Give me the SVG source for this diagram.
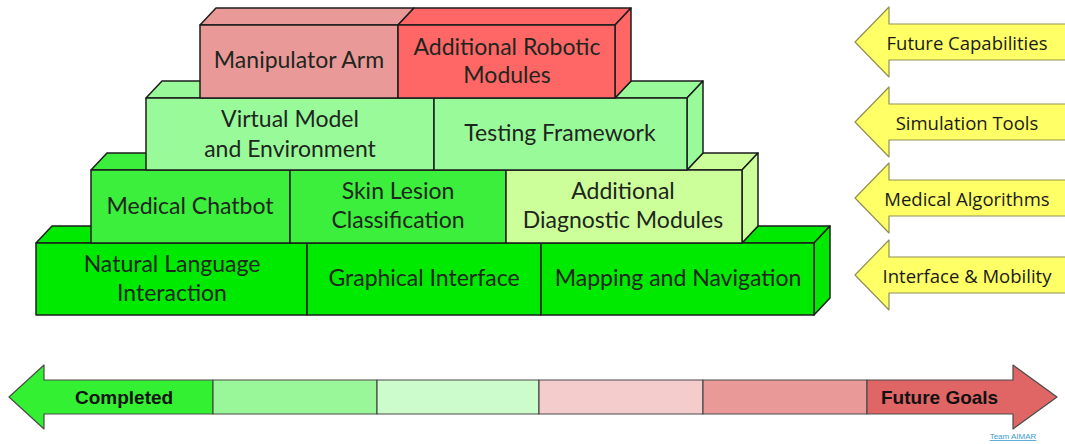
<svg xmlns="http://www.w3.org/2000/svg" width="1065" height="444" viewBox="0 0 1065 444">
  <style>
    .blk { stroke: #1c1c1c; stroke-width: 1.5; stroke-linejoin: round; }
    .lbl { font-family: Lato, "Liberation Sans", sans-serif; font-size: 23px; fill: #1e261e; text-anchor: middle; }
    .tag { fill: #ffff66; stroke: #8f8f55; stroke-width: 1.2; stroke-linejoin: round; }
    .tagtxt { font-family: "Open Sans", "Liberation Sans", sans-serif; font-size: 18.5px; fill: #1a1a1a; text-anchor: middle; }
    .bar { stroke: #4a4a4a; stroke-width: 1.2; stroke-linejoin: round; }
    .bartxt { font-family: "Liberation Sans", Arial, sans-serif; font-weight: bold; font-size: 19px; fill: #111; }
    .done { fill: #00ea00; }
    .mid { fill: #3cef3c; }
    .soft { fill: #99fa99; }
    .pale { fill: #ccff99; }
    .pink { fill: #ea9999; }
    .red { fill: #ff6666; }
  </style>

  <rect width="1065" height="444" fill="#ffffff"/>

  <!-- Level 4: interface and mobility -->
  <g id="natural-language">
    <polygon class="blk done" points="36,243 52,226 107,226 91,243"/>
    <rect class="blk done" x="36" y="243" width="271" height="72"/>
    <text class="lbl" x="172" y="272">Natural Language</text>
    <text class="lbl" x="172" y="301">Interaction</text>
  </g>
  <g id="graphical-interface">
    <rect class="blk done" x="307" y="243" width="234" height="72"/>
    <text class="lbl" x="424" y="286">Graphical Interface</text>
  </g>
  <g id="mapping-navigation">
    <polygon class="blk done" points="742,243 758,226 830,226 814,243"/>
    <polygon class="blk done" points="814,243 830,226 830,298 814,315"/>
    <rect class="blk done" x="541" y="243" width="273" height="72"/>
    <text class="lbl" x="678" y="286">Mapping and Navigation</text>
  </g>

  <!-- Level 3: medical algorithms -->
  <g id="medical-chatbot">
    <polygon class="blk mid" points="91,170 107,153 162,153 146,170"/>
    <rect class="blk mid" x="91" y="170" width="199" height="73"/>
    <text class="lbl" x="190" y="214">Medical Chatbot</text>
  </g>
  <g id="skin-lesion">
    <rect class="blk mid" x="290" y="170" width="216" height="73"/>
    <text class="lbl" x="398" y="199">Skin Lesion</text>
    <text class="lbl" x="398" y="228">Classification</text>
  </g>
  <g id="diagnostic-modules">
    <polygon class="blk pale" points="687,170 703,153 758,153 742,170"/>
    <polygon class="blk pale" points="742,170 758,153 758,226 742,243"/>
    <rect class="blk pale" x="506" y="170" width="236" height="73"/>
    <text class="lbl" x="623" y="199">Additional</text>
    <text class="lbl" x="623" y="228">Diagnostic Modules</text>
  </g>

  <!-- Level 2: simulation tools -->
  <g id="virtual-model">
    <polygon class="blk soft" points="146,98 162,81 216,81 200,98"/>
    <rect class="blk soft" x="146" y="98" width="288" height="72"/>
    <text class="lbl" x="290" y="127">Virtual Model</text>
    <text class="lbl" x="290" y="157">and Environment</text>
  </g>
  <g id="testing-framework">
    <polygon class="blk soft" points="615,98 631,81 703,81 687,98"/>
    <polygon class="blk soft" points="687,98 703,81 703,153 687,170"/>
    <rect class="blk soft" x="434" y="98" width="253" height="72"/>
    <text class="lbl" x="560" y="141">Testing Framework</text>
  </g>

  <!-- Level 1: future capabilities -->
  <g id="manipulator-arm">
    <polygon class="blk pink" points="200,25 216,8 414,8 398,25"/>
    <rect class="blk pink" x="200" y="25" width="198" height="73"/>
    <text class="lbl" x="299" y="68">Manipulator Arm</text>
  </g>
  <g id="robotic-modules">
    <polygon class="blk red" points="398,25 414,8 631,8 615,25"/>
    <polygon class="blk red" points="615,25 631,8 631,81 615,98"/>
    <rect class="blk red" x="398" y="25" width="217" height="73"/>
    <text class="lbl" x="507" y="55">Additional Robotic</text>
    <text class="lbl" x="507" y="83">Modules</text>
  </g>

  <!-- Level tags on the right -->
  <g id="tag-future">
    <polygon class="tag" points="855,42 889,7 889,24 1070,24 1070,60 889,60 889,77"/>
    <text class="tagtxt" x="967" y="50">Future Capabilities</text>
  </g>
  <g id="tag-simulation">
    <polygon class="tag" points="855,122 889,87 889,104 1070,104 1070,140 889,140 889,157"/>
    <text class="tagtxt" x="967" y="130">Simulation Tools</text>
  </g>
  <g id="tag-medical">
    <polygon class="tag" points="855,198 889,163 889,180 1070,180 1070,216 889,216 889,233"/>
    <text class="tagtxt" x="967" y="206">Medical Algorithms</text>
  </g>
  <g id="tag-interface">
    <polygon class="tag" points="855,275 889,240 889,257 1070,257 1070,293 889,293 889,310"/>
    <text class="tagtxt" x="967" y="283">Interface &amp; Mobility</text>
  </g>

  <!-- Progress scale -->
  <g id="scale-completed">
    <polygon class="bar" fill="#33f033" points="9,397 44,365 44,380 213,380 213,414 44,414 44,429"/>
    <text class="bartxt" x="75" y="404">Completed</text>
  </g>
  <g id="scale-step-2"><rect class="bar" fill="#99f799" x="213" y="380" width="164" height="34"/></g>
  <g id="scale-step-3"><rect class="bar" fill="#ccfccc" x="377" y="380" width="162" height="34"/></g>
  <g id="scale-step-4"><rect class="bar" fill="#f4cccc" x="539" y="380" width="164" height="34"/></g>
  <g id="scale-step-5"><rect class="bar" fill="#ea9999" x="703" y="380" width="164" height="34"/></g>
  <g id="scale-future">
    <polygon class="bar" fill="#e06666" points="867,380 1013,380 1013,365 1057,397 1013,429 1013,414 867,414"/>
    <text class="bartxt" x="881" y="404">Future Goals</text>
  </g>

  <g id="connectors"/>

  <text x="1013" y="439" font-family="'Liberation Sans', Arial, sans-serif" font-size="8" fill="#3b9ccf" text-anchor="middle" text-decoration="underline">Team AIMAR</text>
</svg>
